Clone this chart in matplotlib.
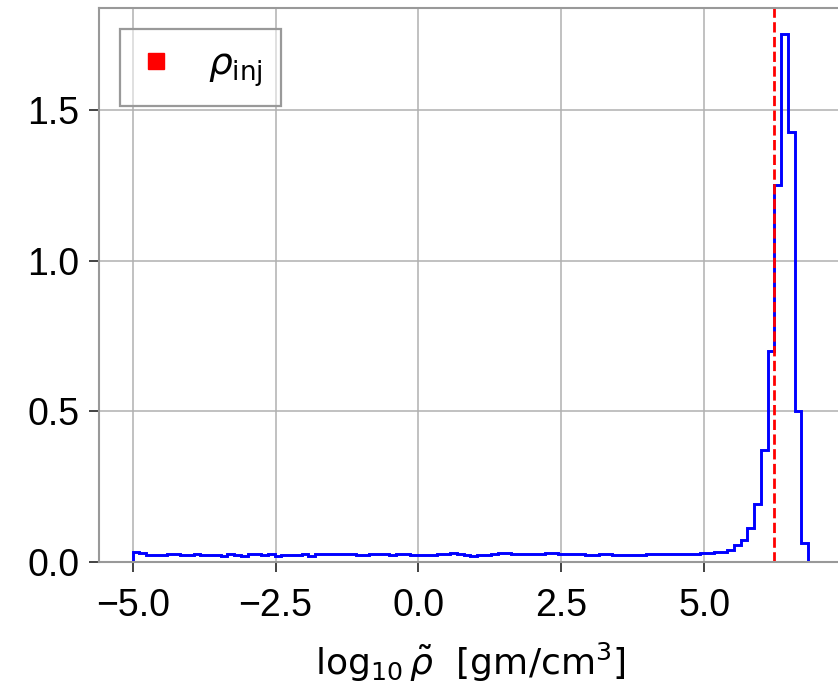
import numpy as np
import matplotlib
matplotlib.use('Agg')
import matplotlib.pyplot as plt

plt.rcParams['font.family'] = ['Liberation Sans', 'DejaVu Sans']
plt.rcParams['mathtext.fontset'] = 'dejavusans'
plt.rcParams['font.size'] = 27

# Histogram of log10 density (density-normalised), 100 bins from -5 to 6.82
bin_lo = -5.0
bin_hi = 6.82
n_bins = 100

flat_part = [0.034, 0.030, 0.024, 0.024, 0.024, 0.027, 0.027, 0.024, 0.024, 0.027,
             0.024, 0.024, 0.024, 0.021, 0.026, 0.024, 0.021, 0.026, 0.026, 0.022,
             0.026, 0.021, 0.024, 0.024, 0.022, 0.026, 0.021, 0.025, 0.027, 0.027,
             0.027, 0.025, 0.025, 0.023, 0.023, 0.027, 0.027, 0.025, 0.023, 0.027,
             0.027, 0.023, 0.022, 0.022, 0.024, 0.026, 0.028, 0.031, 0.028, 0.023,
             0.021, 0.024, 0.024, 0.025, 0.029, 0.029, 0.026, 0.026, 0.026, 0.026,
             0.026, 0.030, 0.030, 0.027, 0.025, 0.026, 0.025, 0.024, 0.022, 0.026,
             0.026, 0.024, 0.024, 0.024, 0.022, 0.022, 0.025, 0.025, 0.025, 0.027,
             0.028, 0.028, 0.026, 0.026, 0.029]
peak_part = [0.031, 0.034, 0.034, 0.039, 0.055, 0.074, 0.113, 0.192, 0.371, 0.70,
             1.25, 1.75, 1.425, 0.50, 0.063]
density = np.array(flat_part + peak_part)

rho_inj = 6.22  # log10 of injected density

edges = np.linspace(bin_lo, bin_hi, n_bins + 1)

fig = plt.figure(figsize=(8.38, 6.91), dpi=100)
ax = fig.add_axes([0.1181, 0.1867, 0.8867, 0.8017])

ax.stairs(density, edges, color='blue', linewidth=2.1, baseline=0)
ax.axvline(rho_inj, color='red', linestyle='--', linewidth=2.0)
ax.plot([], [], 's', color='red', markersize=12, label=r'$\rho_{\rm inj}$')

ax.set_xticks([-5.0, -2.5, 0.0, 2.5, 5.0])
ax.set_yticks([0.0, 0.5, 1.0, 1.5])
ax.grid(True, color='#b0b0b0', linewidth=1.1)
ax.set_axisbelow(True)
ax.tick_params(direction='out', length=7, width=1.2, color='#222222')
ax.tick_params(axis='x', pad=12)
ax.tick_params(axis='y', pad=7)
for sp in ax.spines.values():
    sp.set_color('#999999')
    sp.set_linewidth(1.5)

ax.set_xlabel(r'$\log_{10}\tilde{\rho}\ \ [\rm gm/cm^3]$', fontsize=26, labelpad=12)

leg = ax.legend(loc='upper left', borderaxespad=0.55, fancybox=False,
                handlelength=1.0, handletextpad=0.9, borderpad=0.47)
frame = leg.get_frame()
frame.set_alpha(None)
frame.set_facecolor((1, 1, 1, 0.5))
frame.set_edgecolor('#999999')
frame.set_linewidth(1.6)

fig.savefig('out.png', dpi=100)
